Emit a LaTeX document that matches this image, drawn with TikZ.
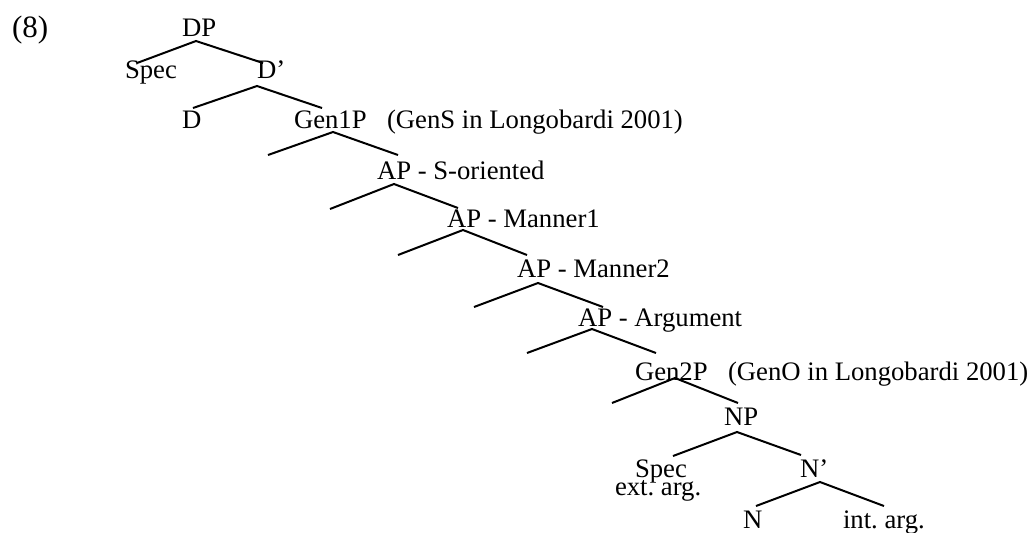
\documentclass[tikz,border=0pt]{standalone}
\usepackage{fontspec}
\setmainfont{Liberation Serif}
\frenchspacing
\begin{document}
\begin{tikzpicture}[x=0.5pt,y=-0.5pt,
  lbl/.style={anchor=base west,inner sep=0pt,outer sep=0pt,font=\fontsize{13.35}{15}\selectfont},
  br/.style={line width=1pt}]
\useasboundingbox (0,0) rectangle (1030,532);
% labels
\node[lbl,font=\fontsize{15.5}{18}\selectfont] (ex) at (12,37) {(8)};
\node[lbl] (dp) at (182,36) {DP};
\node[lbl] (spec1) at (125,78) {Spec};
\node[lbl] (dbar) at (257,78) {D’};
\node[lbl] (d) at (182,128) {D};
\node[lbl] (gen1) at (294,128) {Gen1P};
\node[lbl] (gen1c) at (387,128) {(GenS in Longobardi 2001)};
\node[lbl] (ap1) at (377,179) {AP - S-oriented};
\node[lbl] (ap2) at (447,227) {AP - Manner1};
\node[lbl] (ap3) at (517,277) {AP - Manner2};
\node[lbl] (ap4) at (578,326) {AP - Argument};
\node[lbl] (gen2) at (635,380) {Gen2P};
\node[lbl] (gen2c) at (728,380) {(GenO in Longobardi 2001)};
\node[lbl] (np) at (724,425) {NP};
\node[lbl] (spec2) at (635,477) {Spec};
\node[lbl] (ext) at (615,495) {ext. arg.};
\node[lbl] (nbar) at (800,477) {N’};
\node[lbl] (n) at (743,528) {N};
\node[lbl] (int) at (843,528) {int. arg.};
% branch points
\coordinate (dpA) at (196,41);  \coordinate (dpL) at (137,63);  \coordinate (dpR) at (263,63);
\coordinate (dbA) at (257,86);  \coordinate (dbL) at (193,108); \coordinate (dbR) at (322,108);
\coordinate (g1A) at (333,132); \coordinate (g1L) at (268,155); \coordinate (g1R) at (398,155);
\coordinate (a1A) at (394,184); \coordinate (a1L) at (330,209); \coordinate (a1R) at (458,208);
\coordinate (a2A) at (463,230); \coordinate (a2L) at (398,255); \coordinate (a2R) at (527,255);
\coordinate (a3A) at (538,283); \coordinate (a3L) at (474,307); \coordinate (a3R) at (603,307);
\coordinate (a4A) at (592,329); \coordinate (a4L) at (527,353); \coordinate (a4R) at (656,353);
\coordinate (g2A) at (675,378); \coordinate (g2L) at (612,403); \coordinate (g2R) at (738,403);
\coordinate (npA) at (737,432); \coordinate (npL) at (673,456); \coordinate (npR) at (801,455);
\coordinate (nbA) at (820,482); \coordinate (nbL) at (756,506); \coordinate (nbR) at (884,506);
% branches
\foreach \p in {dp,db,g1,a1,a2,a3,a4,g2,np,nb}{
  \draw[br] (\p L) -- (\p A) -- (\p R);
}
\end{tikzpicture}
\end{document}
